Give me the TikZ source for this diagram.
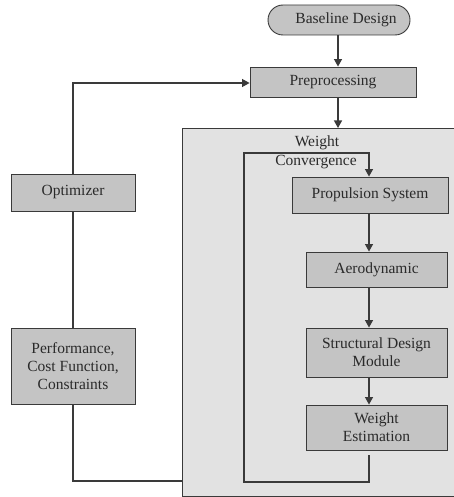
\documentclass[tikz,border=0pt]{standalone}
\usepackage{fontspec}
\setmainfont{Liberation Serif}
\usetikzlibrary{arrows.meta,shapes.misc,calc}
\definecolor{boxfill}{HTML}{C4C4C4}
\definecolor{bigfill}{HTML}{E2E2E2}
\definecolor{linec}{HTML}{3A3A3A}
\definecolor{txtc}{HTML}{2A2A2A}
\begin{document}
\begin{tikzpicture}[x=1pt,y=-1pt,
  font=\fontsize{15.5}{18}\selectfont,
  every node/.style={text=txtc},
  blk/.style={draw=linec,line width=0.9pt,fill=boxfill,inner sep=0pt,align=center},
  conn/.style={draw=linec,line width=1.2pt},
  arr/.style={conn,-{Triangle[width=8pt,length=7.5pt]}}]
\useasboundingbox (0,0) rectangle (454,497);
\clip (0,0) rectangle (454,497);
% big box
\draw[fill=bigfill,draw=linec,line width=0.9pt] (182,128) rectangle (470,496);
\coordinate (bigtop) at (338,128);
\coordinate (bigleft) at (182,481);
% nodes
\node[blk,rounded rectangle,minimum width=142pt,minimum height=30pt] (base) at (339,20) {\hspace*{14pt}Baseline Design};
\node[blk,minimum width=166pt,minimum height=30pt] (pre) at (333,82) {Preprocessing};
\node[blk,minimum width=156pt,minimum height=36pt] (prop) at (370,195) {Propulsion System};
\node[blk,minimum width=141pt,minimum height=35pt] (aero) at (376.5,269.5) {Aerodynamic};
\node[blk,minimum width=141pt,minimum height=49pt] (struct) at (376.5,352.5) {Structural Design\\Module};
\node[blk,minimum width=141pt,minimum height=45pt] (west) at (376.5,427.5) {Weight\\Estimation};
\node[blk,minimum width=124pt,minimum height=37pt] (opt) at (73,192.5) {Optimizer};
\node[blk,minimum width=124pt,minimum height=76pt] (perf) at (73,366) {Performance,\\Cost Function,\\Constraints};
% connectors
\draw[arr] (base.south -| 338,0) -- (pre.north -| 338,0);
\draw[arr] (pre.south -| 338,0) -- (bigtop);
\draw[arr] (prop.south -| 369,0) -- (aero.north -| 369,0);
\draw[arr] (aero.south -| 369,0) -- (struct.north -| 369,0);
\draw[arr] (struct.south -| 369,0) -- (west.north -| 369,0);
\coordinate (lpstart) at ($(west.south -| 369,0)+(0,5)$);
\draw[arr] (lpstart) -- (369,482) -- (244,482) -- (244,153) -- (369,153) -- (prop.north -| 369,0);
\draw[arr] (opt.north) -- (73,83) -- (pre.west |- 73,83);
\draw[conn] (perf.north) -- (opt.south);
\draw[conn] (perf.south) -- (73,481) -- (bigleft);
\node (wc1) at (317,143) {Weight};
\node (wc2) at (316,162) {Convergence};
\end{tikzpicture}
\end{document}
